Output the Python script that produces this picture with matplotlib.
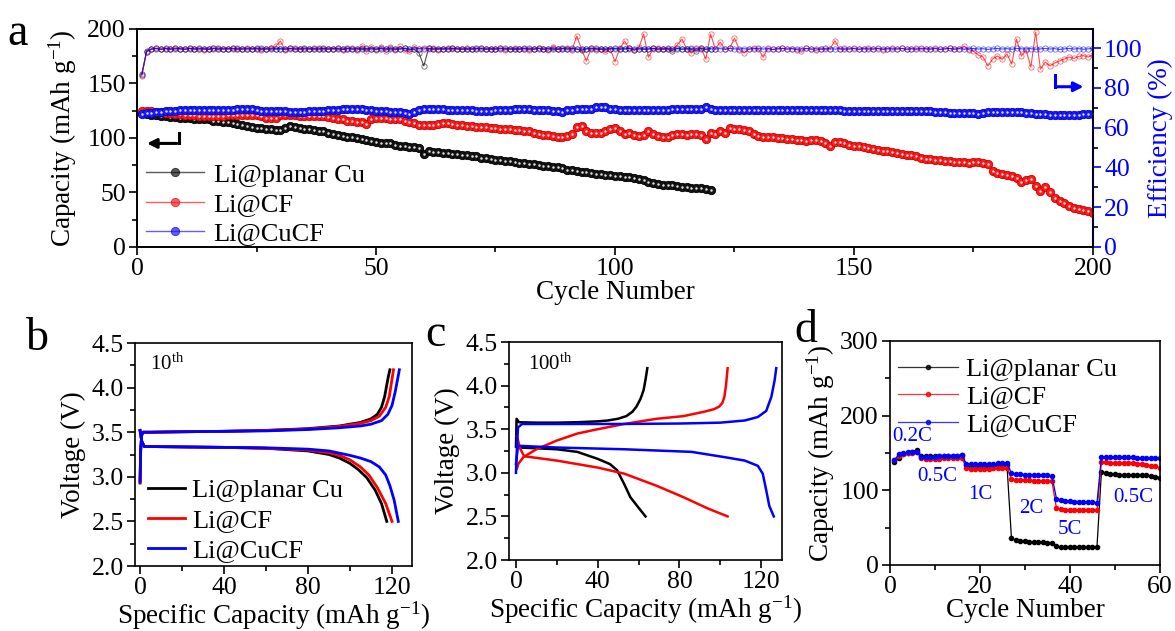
import matplotlib

matplotlib.use("Agg")
import matplotlib.pyplot as plt
from matplotlib.ticker import MultipleLocator

plt.rcParams["font.family"] = ["Liberation Serif", "DejaVu Serif"]
plt.rcParams["mathtext.fontset"] = "custom"
plt.rcParams["mathtext.rm"] = "Liberation Serif"
plt.rcParams["mathtext.it"] = "Liberation Serif:italic"
plt.rcParams["axes.linewidth"] = 1.2

BLACK = "#000000"
RED = "#ff0000"
BLUE = "#0000ff"
LABELS = ["Li@planar Cu", "Li@CF", "Li@CuCF"]

# ---------------- panel a: cycling (capacity + efficiency) ----------------
CAP_PLANAR = [
    123, 122, 121, 121, 120, 120, 119, 119, 118, 118, 118, 117, 117, 117, 117, 116, 116, 115, 115, 114,
    113, 112, 111, 110, 109, 109, 108, 108, 107, 107, 109, 111, 110, 109, 108, 108, 107, 106, 106, 105,
    104, 103, 102, 101, 101, 100, 99, 98, 97, 96, 95, 95, 95, 94, 93, 93, 92, 92, 91, 85,
    88, 87, 87, 86, 86, 85, 85, 84, 84, 83, 83, 82, 82, 81, 80, 80, 79, 79, 78, 77,
    77, 76, 76, 75, 74, 74, 73, 73, 72, 71, 71, 70, 69, 69, 68, 67, 67, 66, 66, 65,
    65, 64, 64, 63, 62, 61, 60, 59, 58, 57, 57, 57, 56, 55, 55, 54, 54, 54, 53, 52,
]
CAP_CF = [
    125, 125, 125, 124, 124, 123, 123, 122, 122, 121, 121, 121, 120, 120, 120, 120, 120, 120, 121, 121,
    121, 121, 121, 121, 121, 120, 118, 118, 118, 121, 121, 121, 121, 120, 120, 120, 120, 120, 120, 119,
    118, 117, 117, 116, 116, 115, 115, 113, 117, 118, 118, 118, 117, 117, 117, 116, 115, 114, 112, 112,
    112, 112, 113, 114, 114, 113, 112, 112, 111, 111, 110, 110, 110, 109, 109, 108, 108, 108, 107, 107,
    106, 106, 105, 104, 103, 103, 102, 101, 101, 102, 104, 110, 111, 106, 105, 105, 105, 106, 108, 109,
    106, 104, 105, 103, 102, 103, 106, 104, 102, 101, 101, 103, 104, 104, 103, 104, 104, 103, 99, 105,
    104, 106, 105, 109, 108, 108, 107, 106, 104, 102, 101, 101, 101, 100, 100, 99, 99, 98, 98, 97,
    98, 98, 97, 95, 93, 96, 96, 95, 94, 93, 93, 92, 91, 90, 89, 88, 88, 87, 86, 85,
    84, 84, 83, 82, 81, 81, 80, 80, 79, 79, 78, 78, 78, 77, 78, 78, 77, 76, 70, 68,
    67, 66, 65, 63, 60, 61, 62, 56, 51, 55, 50, 45, 42, 40, 38, 36, 35, 34, 33, 31,
]
CAP_CUCF = [
    122, 123, 123, 124, 124, 125, 125, 125, 126, 126, 126, 126, 126, 126, 126, 126, 126, 126, 126, 126,
    127, 127, 127, 127, 126, 125, 125, 125, 125, 125, 125, 124, 124, 124, 124, 125, 125, 125, 125, 126,
    126, 126, 127, 127, 127, 127, 127, 126, 126, 125, 125, 125, 124, 124, 124, 123, 122, 124, 126, 127,
    127, 127, 127, 127, 126, 126, 126, 126, 126, 126, 125, 125, 125, 125, 126, 126, 126, 126, 127, 127,
    127, 127, 126, 126, 126, 126, 125, 125, 124, 126, 126, 127, 127, 127, 127, 128, 128, 128, 127, 127,
    126, 126, 126, 126, 126, 126, 126, 126, 126, 126, 126, 127, 127, 127, 127, 127, 127, 127, 128, 127,
    126, 126, 126, 126, 126, 126, 126, 126, 126, 126, 126, 126, 126, 126, 126, 126, 126, 126, 126, 126,
    126, 126, 126, 126, 126, 126, 126, 125, 125, 125, 125, 125, 125, 125, 125, 125, 125, 125, 125, 125,
    125, 125, 125, 125, 125, 125, 124, 124, 124, 123, 123, 123, 123, 123, 123, 122, 123, 124, 124, 124,
    124, 124, 124, 124, 124, 123, 123, 122, 122, 122, 121, 121, 121, 121, 121, 121, 121, 122, 122, 122,
]
EFF_PLANAR = [
    87.0, 98.5, 99.6, 99.8, 99.4, 99.7, 99.5, 99.9, 99.6, 99.4, 99.7, 99.5, 99.8, 99.6, 99.3, 99.7, 99.9, 99.5, 99.6, 99.8,
    99.4, 99.7, 99.5, 99.6, 99.9, 99.3, 99.6, 99.8, 99.5, 99.7, 99.4, 99.8, 99.6, 99.5, 99.9, 99.7, 99.3, 99.6, 99.8, 99.5,
    99.7, 99.4, 99.6, 99.9, 99.5, 99.7, 99.3, 99.8, 99.6, 99.4, 99.7, 99.5, 99.8, 99.3, 99.6, 99.9, 99.5, 99.4, 97.5, 91.0,
    99.8, 99.5, 99.7, 99.4, 99.6, 99.9, 99.5, 99.7, 99.3, 99.6, 99.8, 99.5, 99.7, 99.4, 99.6, 99.9, 99.5, 99.7, 99.3, 99.6,
    99.8, 99.4, 99.6, 99.9, 99.5, 99.7, 99.3, 99.6, 99.8, 99.5, 99.7, 99.4, 98.8, 99.6, 99.9, 99.5, 99.7, 99.3, 99.6, 99.8,
    99.4, 99.6, 99.9, 98.9, 99.7, 99.3, 99.6, 99.8, 99.5, 99.7, 99.4, 98.7, 99.8, 99.5, 99.7, 99.3, 98.6, 99.8, 99.5, 99.7,
]
EFF_CF = [
    86.0, 98.0, 99.5, 99.8, 99.3, 99.7, 99.4, 99.9, 99.6, 99.3, 99.8, 99.5, 99.7, 99.2, 99.6, 99.9, 99.4, 99.7, 99.5, 99.8,
    99.3, 99.6, 99.9, 99.4, 99.7, 99.2, 99.6, 99.8, 100.8, 103.5, 99.0, 99.5, 99.8, 99.3, 99.7, 99.4, 99.6, 99.9, 99.3, 99.7,
    99.5, 99.8, 99.2, 99.6, 99.9, 98.8, 100.8, 98.5, 100.5, 99.0, 100.6, 98.7, 100.3, 98.9, 100.9, 99.0, 98.6, 100.4, 99.5, 100.2,
    99.4, 99.8, 99.2, 99.6, 99.9, 99.3, 99.7, 99.5, 99.8, 99.4, 99.6, 99.9, 99.3, 99.7, 99.5, 99.8, 99.2, 99.6, 99.9, 99.4,
    99.7, 99.2, 99.6, 99.9, 99.4, 98.8, 100.4, 99.3, 99.7, 100.2, 99.0, 106.0, 99.5, 93.5, 99.8, 99.2, 99.7, 98.6, 99.5, 93.2,
    99.8, 103.5, 99.6, 99.2, 100.3, 107.0, 95.4, 99.6, 99.9, 99.3, 99.7, 99.4, 101.5, 104.5, 99.6, 97.5, 99.8, 100.2, 94.4, 107.0,
    99.5, 103.0, 99.4, 99.8, 105.0, 99.2, 97.5, 99.6, 99.9, 99.4, 95.4, 99.8, 99.3, 99.6, 99.9, 99.5, 99.7, 99.2, 98.5, 99.8,
    99.5, 98.8, 99.7, 99.3, 99.6, 103.7, 99.4, 99.8, 99.5, 99.7, 99.3, 99.6, 99.9, 99.4, 99.7, 99.2, 99.6, 99.9, 99.5, 99.8,
    99.3, 99.6, 99.8, 99.4, 99.7, 99.5, 99.9, 99.3, 99.6, 99.8, 99.4, 99.7, 101.0, 99.2, 98.5, 96.5, 95.5, 91.0, 94.5, 96.0,
    94.4, 97.0, 92.0, 104.5, 96.0, 99.0, 90.4, 108.0, 89.4, 93.0, 91.0, 92.5, 93.5, 94.5, 95.5, 94.8, 95.8, 96.2, 95.5, 96.5,
]
EFF_CUCF = [
    86.5, 98.2, 99.4, 99.7, 99.5, 99.8, 99.6, 99.4, 99.7, 99.5, 99.8, 99.6, 99.4, 99.7, 99.5, 99.8, 99.3, 99.6, 99.7, 99.5,
    99.8, 99.4, 99.6, 99.7, 99.5, 99.8, 99.6, 99.3, 99.7, 99.5, 99.6, 99.8, 99.4, 99.7, 99.5, 99.6, 99.8, 99.4, 99.7, 99.5,
    99.6, 99.8, 99.3, 99.7, 99.5, 99.6, 99.8, 99.4, 99.7, 99.5, 99.8, 99.6, 99.4, 99.7, 99.5, 99.8, 99.3, 99.6, 99.7, 99.5,
    99.8, 99.4, 99.6, 99.7, 99.5, 99.8, 99.6, 99.3, 99.7, 99.5, 99.6, 99.8, 99.4, 99.7, 99.5, 99.6, 99.8, 99.4, 99.7, 99.5,
    99.6, 99.8, 99.3, 99.7, 99.5, 99.6, 99.8, 99.4, 99.7, 99.5, 99.8, 99.6, 99.4, 99.7, 99.5, 99.8, 99.3, 99.6, 99.7, 99.5,
    99.7, 99.5, 99.8, 99.4, 99.6, 99.7, 99.5, 99.8, 99.3, 99.6, 99.8, 99.5, 99.7, 99.4, 99.6, 99.8, 99.5, 99.7, 99.3, 99.6,
    99.5, 99.7, 99.4, 99.8, 99.6, 99.5, 99.7, 99.4, 99.6, 99.8, 99.5, 99.7, 99.3, 99.6, 99.8, 99.5, 99.7, 99.4, 99.6, 99.8,
    99.5, 99.7, 99.4, 99.8, 99.6, 99.5, 99.7, 99.3, 99.6, 99.8, 99.5, 99.7, 99.4, 99.6, 99.8, 99.5, 99.7, 99.4, 99.6, 99.8,
    99.5, 99.7, 99.3, 99.8, 99.6, 99.5, 99.7, 99.4, 99.6, 99.8, 99.5, 99.7, 99.4, 99.6, 99.8, 99.5, 99.7, 99.3, 99.6, 99.8,
    99.5, 99.7, 99.4, 99.8, 99.6, 99.5, 99.7, 99.4, 99.6, 99.8, 99.5, 99.7, 99.3, 99.6, 99.8, 99.5, 99.7, 99.4, 99.6, 99.8,
]
CYC_PLANAR = list(range(1, len(CAP_PLANAR) + 1))
CYC_LONG = list(range(1, len(CAP_CF) + 1))

# ---------------- panel b: 10th cycle voltage profiles ----------------
B_PLANAR_CH_X = [0, 0.3, 0.8, 1.5, 5, 20, 40, 60, 80, 95, 105, 110, 113, 115, 116.5, 117.5, 118.3, 119]
B_PLANAR_CH_V = [2.93, 3.3, 3.47, 3.5, 3.5, 3.505, 3.51, 3.52, 3.54, 3.57, 3.61, 3.65, 3.7, 3.78, 3.9, 4.03, 4.13, 4.2]
B_PLANAR_DIS_X = [0, 0.8, 2, 20, 40, 60, 80, 90, 95, 100, 104, 108, 112, 115, 117.5]
B_PLANAR_DIS_V = [3.52, 3.4, 3.34, 3.335, 3.33, 3.32, 3.29, 3.25, 3.21, 3.15, 3.08, 2.99, 2.85, 2.7, 2.5]
B_CF_CH_X = [0, 0.3, 0.8, 1.5, 5, 20, 40, 60, 80, 95, 105, 110, 114, 117, 118.7, 119.7, 120.7]
B_CF_CH_V = [2.94, 3.3, 3.47, 3.5, 3.5, 3.505, 3.51, 3.52, 3.535, 3.565, 3.6, 3.63, 3.68, 3.78, 3.9, 4.05, 4.2]
B_CF_DIS_X = [0, 0.8, 2, 20, 40, 60, 80, 90, 95, 100, 105, 109, 113, 117, 120]
B_CF_DIS_V = [3.52, 3.4, 3.34, 3.335, 3.33, 3.32, 3.3, 3.27, 3.24, 3.19, 3.11, 3.02, 2.88, 2.7, 2.5]
B_CUCF_CH_X = [0, 0.3, 0.8, 1.5, 5, 20, 40, 60, 80, 95, 105, 110, 115, 118, 120, 121.5, 122.7, 123.5]
B_CUCF_CH_V = [2.95, 3.3, 3.47, 3.5, 3.5, 3.505, 3.51, 3.515, 3.53, 3.55, 3.57, 3.59, 3.63, 3.7, 3.8, 3.95, 4.1, 4.2]
B_CUCF_DIS_X = [0, 0.8, 2, 20, 40, 60, 80, 90, 100, 105, 110, 114, 117, 119, 121, 123]
B_CUCF_DIS_V = [3.52, 3.4, 3.34, 3.335, 3.33, 3.325, 3.31, 3.29, 3.24, 3.21, 3.17, 3.11, 3.02, 2.9, 2.74, 2.5]

# ---------------- panel c: 100th cycle voltage profiles ----------------
C_PLANAR_CH_X = [0, 0.3, 1.5, 10, 20, 30, 40, 45, 50, 54, 57, 59, 61, 62.5, 63.5, 64.3]
C_PLANAR_CH_V = [3.3, 3.62, 3.58, 3.575, 3.575, 3.58, 3.59, 3.6, 3.62, 3.65, 3.7, 3.76, 3.85, 3.95, 4.08, 4.2]
C_PLANAR_DIS_X = [0.3, 2, 20, 30, 40, 46, 49.5, 53, 56, 60, 63.4]
C_PLANAR_DIS_V = [3.34, 3.29, 3.27, 3.24, 3.16, 3.1, 3.03, 2.87, 2.72, 2.6, 2.5]
C_CF_CH_X = [0.5, 1.1, 3.6, 10, 20, 30, 40, 53, 69, 82, 92, 97, 99.5, 101, 102, 102.8, 103.6]
C_CF_CH_V = [3.05, 3.1, 3.18, 3.27, 3.37, 3.45, 3.5, 3.56, 3.62, 3.65, 3.7, 3.73, 3.76, 3.8, 3.87, 4.0, 4.2]
C_CF_DIS_X = [0.5, 2, 4, 20, 40, 53, 69, 82, 94, 103.6]
C_CF_DIS_V = [3.42, 3.28, 3.19, 3.14, 3.06, 2.99, 2.85, 2.72, 2.59, 2.5]
C_CUCF_CH_X = [0, 0.5, 1, 3, 20, 50, 80, 100, 112, 118.4, 122.5, 125, 126.6, 127.4]
C_CUCF_CH_V = [3.0, 3.3, 3.52, 3.56, 3.56, 3.56, 3.565, 3.575, 3.6, 3.64, 3.71, 3.87, 4.06, 4.2]
C_CUCF_DIS_X = [0, 1, 20, 53, 86, 102, 112, 118.4, 120.8, 122.5, 124, 126.2]
C_CUCF_DIS_V = [3.1, 3.31, 3.29, 3.27, 3.24, 3.18, 3.14, 3.08, 2.99, 2.8, 2.62, 2.5]

# ---------------- panel d: rate capability ----------------
RATE_PLANAR = [
    138, 143, 148, 150, 152, 154, 146, 146, 146, 146, 146, 146, 146, 146, 146, 147, 134, 133, 133, 133,
    133, 133, 133, 134, 134, 134, 36, 33, 32, 32, 31, 31, 31, 31, 30, 30, 25, 24, 24, 24,
    24, 24, 24, 24, 24, 24, 125, 123, 122, 122, 121, 121, 121, 121, 120, 120, 120, 119, 118, 117,
]
RATE_CF = [
    140, 146, 149, 150, 150, 151, 143, 142, 142, 142, 142, 143, 143, 143, 143, 143, 130, 129, 129, 129,
    129, 129, 130, 130, 130, 130, 115, 114, 114, 114, 114, 113, 113, 113, 112, 112, 76, 75, 74, 74,
    73, 73, 73, 73, 73, 73, 138, 138, 137, 137, 137, 136, 136, 136, 135, 135, 134, 133, 132, 130,
]
RATE_CUCF = [
    141, 148, 150, 151, 152, 152, 144, 145, 145, 145, 146, 146, 146, 146, 146, 147, 135, 135, 135, 135,
    135, 135, 135, 136, 136, 136, 123, 122, 122, 121, 121, 121, 120, 120, 120, 119, 89, 87, 86, 86,
    85, 85, 84, 84, 84, 83, 145, 145, 144, 144, 144, 144, 144, 144, 143, 143, 143, 143, 143, 143,
]
RATE_CYC = list(range(1, len(RATE_PLANAR) + 1))
RATE_TEXT = ["0.2C", "0.5C", "1C", "2C", "5C", "0.5C"]
RATE_TEXT_X = [5.0, 10.5, 20.0, 31.5, 40.0, 54.0]
RATE_TEXT_Y = [172, 118, 94, 76, 48, 90]

TICK_FS = 18.5
LABEL_FS = 19.5
LEG_FS = 19


def style_axis(ax):
    ax.tick_params(which="both", direction="out", labelsize=TICK_FS, width=1.2, pad=2)
    ax.tick_params(which="major", length=6)
    ax.tick_params(which="minor", length=3.5)


fig = plt.figure(figsize=(11.75, 6.31), dpi=100)

# ================= panel a =================
ax_a = fig.add_axes([0.1166, 0.6086, 0.8136, 0.3455])
ax_e = ax_a.twinx()
eff_sets = [(CYC_PLANAR, EFF_PLANAR, BLACK), (CYC_LONG, EFF_CF, RED), (CYC_LONG, EFF_CUCF, BLUE)]
for x, y, c in eff_sets:
    ax_e.plot(x, y, color=c, lw=0.8, marker="o", ms=3.8, mfc="none", mec=c, mew=0.5, alpha=0.7)
ax_e.set_ylim(0, 109.6)
ax_e.yaxis.set_major_locator(MultipleLocator(20))
ax_e.yaxis.set_minor_locator(MultipleLocator(10))
style_axis(ax_e)
ax_e.tick_params(axis="y", colors=BLUE)
ax_e.spines["right"].set_color(BLUE)
ax_e.spines["right"].set_linewidth(1.5)
ax_e.set_ylabel("Efficiency (%)", fontsize=LABEL_FS, color=BLUE, labelpad=4)

cap_sets = [
    (CYC_PLANAR, CAP_PLANAR, "#151515", "#000000", LABELS[0]),
    (CYC_LONG, CAP_CF, "#ff1a1a", "#cc0000", LABELS[1]),
    (CYC_LONG, CAP_CUCF, "#1a1aff", "#0000cc", LABELS[2]),
]
handles = []
for x, y, fc, ec, lab in cap_sets:
    (h,) = ax_a.plot(x, y, color=fc, lw=0.6, marker="o", ms=6.0, mfc=fc, mec=ec, mew=0.6, label=lab)
    ax_a.plot(x, y, ls="none", marker="o", ms=1.8, mfc="#e0e0e0", mec="none")
    handles.append(h)
ax_a.set_zorder(ax_e.get_zorder() + 1)
ax_a.patch.set_visible(False)
ax_a.set_xlim(0, 200)
ax_a.set_ylim(0, 200)
ax_a.xaxis.set_major_locator(MultipleLocator(50))
ax_a.xaxis.set_minor_locator(MultipleLocator(25))
ax_a.yaxis.set_major_locator(MultipleLocator(50))
ax_a.yaxis.set_minor_locator(MultipleLocator(25))
style_axis(ax_a)
ax_a.set_xlabel("Cycle Number", fontsize=LABEL_FS, labelpad=0)
ax_a.set_ylabel("Capacity (mAh g$^{-1}$)", fontsize=LABEL_FS, labelpad=6)
leg_a = ax_a.legend(
    handles=handles, loc="upper left", bbox_to_anchor=(-0.004, 0.445), frameon=False,
    fontsize=LEG_FS, handlelength=2.2, handletextpad=0.35, labelspacing=0.22, borderpad=0,
)
for lh in leg_a.legend_handles:
    lh.set_linewidth(1.0)
    lh.set_alpha(0.7)

# arrows pointing to the axes
ax_a.plot([8.7, 8.7], [104.6, 95], color=BLACK, lw=2.2)
ax_a.annotate("", xy=(1.5, 95), xytext=(8.9, 95),
              arrowprops=dict(arrowstyle="-|>", color=BLACK, lw=2.2, mutation_scale=14))
ax_a.plot([192.1, 192.1], [158, 147], color=BLUE, lw=2.2)
ax_a.annotate("", xy=(198.6, 147), xytext=(191.9, 147),
              arrowprops=dict(arrowstyle="-|>", color=BLUE, lw=2.2, mutation_scale=14))

# ================= panel b =================
ax_b = fig.add_axes([0.1149, 0.1030, 0.2357, 0.3534])
b_sets = [
    (B_PLANAR_CH_X, B_PLANAR_CH_V, B_PLANAR_DIS_X, B_PLANAR_DIS_V, BLACK, LABELS[0]),
    (B_CF_CH_X, B_CF_CH_V, B_CF_DIS_X, B_CF_DIS_V, RED, LABELS[1]),
    (B_CUCF_CH_X, B_CUCF_CH_V, B_CUCF_DIS_X, B_CUCF_DIS_V, BLUE, LABELS[2]),
]
for cx, cv, dx, dv, c, lab in b_sets:
    ax_b.plot(cx, cv, color=c, lw=2.0, label=lab)
    ax_b.plot(dx, dv, color=c, lw=2.0)
ax_b.set_xlim(-2.4, 129.5)
ax_b.set_ylim(2.0, 4.5)
ax_b.xaxis.set_major_locator(MultipleLocator(40))
ax_b.xaxis.set_minor_locator(MultipleLocator(20))
ax_b.yaxis.set_major_locator(MultipleLocator(0.5))
ax_b.yaxis.set_minor_locator(MultipleLocator(0.25))
ax_b.yaxis.set_major_formatter("{x:.1f}")
style_axis(ax_b)
ax_b.set_xlabel("Specific Capacity (mAh g$^{-1}$)", fontsize=LABEL_FS, labelpad=0)
ax_b.set_ylabel("Voltage (V)", fontsize=LABEL_FS, labelpad=4)
ax_b.text(4.8, 4.2, "10$^{\\mathrm{th}}$", fontsize=15, va="baseline")
ax_b.legend(loc="upper left", bbox_to_anchor=(0.0, 0.45), frameon=False, fontsize=LEG_FS,
            handlelength=1.4, handletextpad=0.25, labelspacing=0.25, borderpad=0)

# ================= panel c =================
ax_c = fig.add_axes([0.4332, 0.1125, 0.2323, 0.3455])
c_sets = [
    (C_PLANAR_CH_X, C_PLANAR_CH_V, C_PLANAR_DIS_X, C_PLANAR_DIS_V, BLACK),
    (C_CF_CH_X, C_CF_CH_V, C_CF_DIS_X, C_CF_DIS_V, RED),
    (C_CUCF_CH_X, C_CUCF_CH_V, C_CUCF_DIS_X, C_CUCF_DIS_V, BLUE),
]
for cx, cv, dx, dv, c in c_sets:
    ax_c.plot(cx, cv, color=c, lw=1.8)
    ax_c.plot(dx, dv, color=c, lw=1.8)
ax_c.set_xlim(-3.4, 130.2)
ax_c.set_ylim(2.0, 4.5)
ax_c.xaxis.set_major_locator(MultipleLocator(40))
ax_c.xaxis.set_minor_locator(MultipleLocator(20))
ax_c.yaxis.set_major_locator(MultipleLocator(0.5))
ax_c.yaxis.set_minor_locator(MultipleLocator(0.25))
ax_c.yaxis.set_major_formatter("{x:.1f}")
style_axis(ax_c)
ax_c.set_xlabel("Specific Capacity (mAh g$^{-1}$)", fontsize=LABEL_FS, labelpad=0)
ax_c.set_ylabel("Voltage (V)", fontsize=LABEL_FS, labelpad=4)
ax_c.text(5.9, 4.18, "100$^{\\mathrm{th}}$", fontsize=15, va="baseline")

# ================= panel d =================
ax_d = fig.add_axes([0.7574, 0.1046, 0.2298, 0.3550])
d_sets = [(RATE_PLANAR, BLACK, LABELS[0]), (RATE_CF, RED, LABELS[1]), (RATE_CUCF, BLUE, LABELS[2])]
for y, c, lab in d_sets:
    ax_d.plot(RATE_CYC, y, color=c, lw=0.9, marker="o", ms=3.0, mfc=c, mec=c, label=lab)
for t, tx, ty in zip(RATE_TEXT, RATE_TEXT_X, RATE_TEXT_Y):
    ax_d.text(tx, ty, t, color=BLUE, fontsize=15, ha="center", va="center")
ax_d.set_xlim(0, 60)
ax_d.set_ylim(0, 300)
ax_d.xaxis.set_major_locator(MultipleLocator(20))
ax_d.xaxis.set_minor_locator(MultipleLocator(10))
ax_d.yaxis.set_major_locator(MultipleLocator(100))
ax_d.yaxis.set_minor_locator(MultipleLocator(50))
style_axis(ax_d)
ax_d.set_xlabel("Cycle Number", fontsize=LABEL_FS, labelpad=0)
ax_d.set_ylabel("Capacity (mAh g$^{-1}$)", fontsize=LABEL_FS, labelpad=2)
leg_d = ax_d.legend(loc="upper left", bbox_to_anchor=(-0.02, 0.985), frameon=False, fontsize=LEG_FS,
                    handlelength=2.3, handletextpad=0.3, labelspacing=0.15, borderpad=0)
for lh in leg_d.legend_handles:
    lh.set_alpha(0.8)

# panel letters
for letter, x, y in [("a", 0.006, 0.928), ("b", 0.022, 0.446), ("c", 0.362, 0.452), ("d", 0.676, 0.458)]:
    fig.text(x, y, letter, fontsize=33, va="baseline")

fig.savefig("out.png", dpi=100)
